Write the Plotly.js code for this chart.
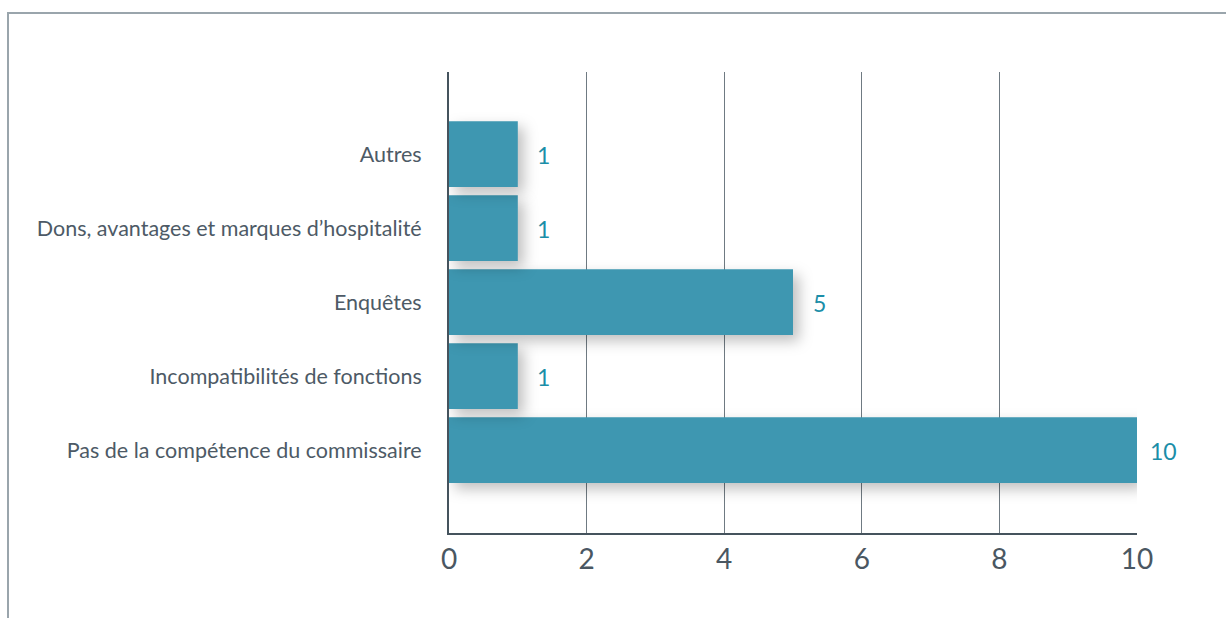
<!DOCTYPE html>
<html>
<head>
<meta charset="utf-8">
<script src="https://cdn.plot.ly/plotly-3.0.1.min.js"></script>
<style>
  html, body { margin: 0; padding: 0; background: #ffffff; }
  #wrap { position: relative; width: 1226px; height: 618px; overflow: hidden; }
  #chart { position: absolute; left: 0; top: 0; width: 1226px; height: 618px; }
  #frame { position: absolute; left: 7px; top: 12px; right: -4px; bottom: -4px;
           border-top: 2px solid #9aa5ac; border-left: 2px solid #9aa5ac; pointer-events: none; }
  #chart .bars .point path { filter: drop-shadow(6px 6px 7px rgba(0,0,0,0.25)); }
</style>
</head>
<body>
<div id="wrap">
  <div id="chart"></div>
  <div id="frame"></div>
</div>
<script>
// Data (bottom to top as drawn)
const categories = [
  "Pas de la compétence du commissaire",
  "Incompatibilités de fonctions",
  "Enquêtes",
  "Dons, avantages et marques d’hospitalité",
  "Autres"
];
const values = [10, 1, 5, 1, 1];
const xTicks = [0, 2, 4, 6, 8, 10];

const trace = {
  type: "bar",
  orientation: "h",
  x: values,
  y: categories,
  marker: { color: "#3e97b1", line: { width: 0 } },
  width: 0.89,
  hoverinfo: "x+y"
};

const annotations = values.map((v, i) => ({
  x: v, y: categories[i], xref: "x", yref: "y",
  text: String(v), showarrow: false,
  xanchor: "center", yanchor: "middle", xshift: 26, yshift: -1,
  font: { family: "Lato, 'Noto Sans', sans-serif", size: 23, color: "#1b8ea8" }
}));

const layout = {
  width: 1226, height: 618,
  margin: { l: 449, r: 89, t: 72, b: 85, pad: 0 },
  paper_bgcolor: "rgba(0,0,0,0)",
  plot_bgcolor: "rgba(0,0,0,0)",
  showlegend: false,
  bargap: 0.11,
  xaxis: {
    range: [0, 10],
    tickvals: xTicks,
    ticktext: xTicks.map(String),
    showgrid: true, gridcolor: "#6f7a82", gridwidth: 1,
    zeroline: false,
    showline: true, linecolor: "#45535d", linewidth: 2,
    ticks: "", ticklen: 0,
    tickfont: { family: "Lato, 'Noto Sans', sans-serif", size: 28, color: "#4a5762" },
    fixedrange: true
  },
  yaxis: {
    type: "category",
    categoryorder: "array",
    categoryarray: categories,
    range: [-1.12, 5.11],
    showgrid: false, zeroline: false,
    showline: true, linecolor: "#45535d", linewidth: 2,
    ticks: "outside", ticklen: 21, tickcolor: "rgba(0,0,0,0)",
    tickfont: { family: "Lato, 'Noto Sans', sans-serif", size: 21.5, color: "#4d5a66" },
    fixedrange: true
  },
  annotations: annotations,
  font: { family: "Lato, 'Noto Sans', sans-serif" }
};

Plotly.newPlot("chart", [trace], layout, { displayModeBar: false, staticPlot: true });
</script>
</body>
</html>
